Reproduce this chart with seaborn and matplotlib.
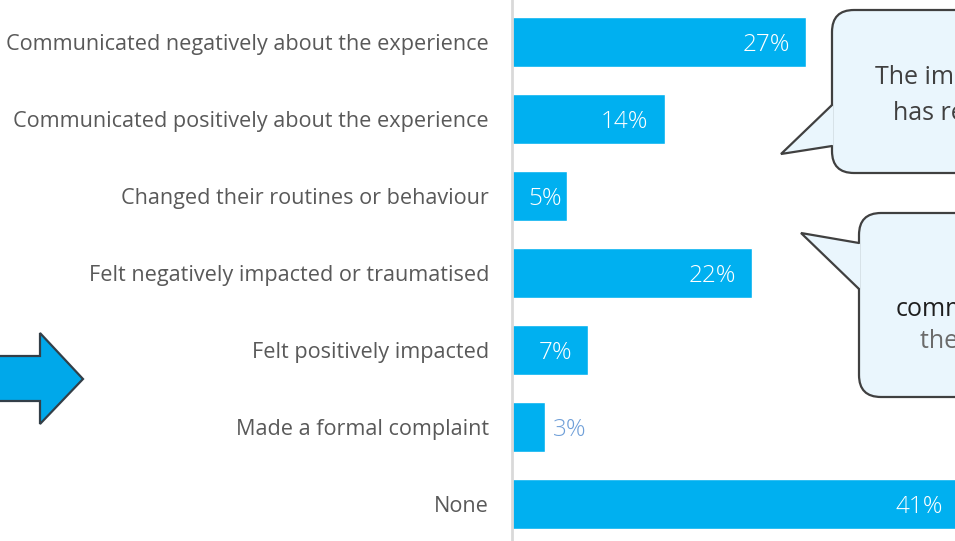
import matplotlib
matplotlib.use("Agg")
import matplotlib.pyplot as plt
import seaborn as sns
import pandas as pd
from matplotlib.patches import FancyBboxPatch, Polygon

categories = [
    "Communicated negatively about the experience",
    "Communicated positively about the experience",
    "Changed their routines or behaviour",
    "Felt negatively impacted or traumatised",
    "Felt positively impacted",
    "Made a formal complaint",
    "None",
]
values = [27, 14, 5, 22, 7, 3, 41]
value_labels = ["27%", "14%", "5%", "22%", "7%", "3%", "41%"]

sns.set_theme(style="white")
plt.rcParams["font.family"] = ["Open Sans", "DejaVu Sans"]

W, H = 955, 541
fig = plt.figure(figsize=(W / 100, H / 100), dpi=100)
fig.patch.set_facecolor("white")

ax = fig.add_axes([512 / W, 0, (W - 512) / W, 1])
df = pd.DataFrame({"cat": categories, "val": values})
sns.barplot(data=df, y="cat", x="val", orient="h", color="#00b0f0",
            saturation=1, width=0.65, ax=ax)
px_per_pct = 10.9
ax.set_xlim(0, (W - 512) / px_per_pct)
ax.set_ylim(6 + 37 / 77, -42 / 77)
for s in ["top", "right", "bottom"]:
    ax.spines[s].set_visible(False)
ax.spines["left"].set_color("#d9d9d9")
ax.spines["left"].set_linewidth(2)
ax.spines["left"].set_zorder(5)
ax.set_xticks([])
ax.set_xlabel("")
ax.set_ylabel("")
ax.tick_params(axis="y", length=0, pad=16.5)
for lab in ax.get_yticklabels():
    lab.set_fontsize(15.6)
    lab.set_color("#595959")

for i, (v, t) in enumerate(zip(values, value_labels)):
    if v >= 5:
        x = max(v - 16 / px_per_pct, 50 / px_per_pct)
        ax.text(x, i, t, ha="right", va="center_baseline",
                color="white", fontsize=17.5, fontweight="light")
    else:
        ax.text(v + 8 / px_per_pct, i, t, ha="left", va="center_baseline",
                color="#6f9fd8", fontsize=17.5, fontweight="light")

# Overlay axes in pixel coordinates for callouts and arrow
ov = fig.add_axes([0, 0, 1, 1], facecolor="none")
ov.set_xlim(0, W)
ov.set_ylim(H, 0)
ov.axis("off")

fill = "#eaf6fd"
edge = "#404040"

# Callout 1
b1 = FancyBboxPatch((832, 10), 250, 163, boxstyle="round,pad=0,rounding_size=22",
                    fc=fill, ec=edge, lw=1.6, zorder=2)
ov.add_patch(b1)
ov.add_patch(Polygon([(833, 105), (781, 154), (833, 146)], closed=True,
                     fc=fill, ec="none", zorder=3))
ov.plot([832, 781, 832], [105, 154, 146], color=edge, lw=1.6, zorder=4,
        solid_joinstyle="miter")
ov.text(875, 74, "The impact of the experience", fontsize=18, color="#404040",
        va="center_baseline", ha="left", zorder=5)
ov.text(893, 111, "has resulted in action", fontsize=18, color="#404040",
        va="center_baseline", ha="left", zorder=5)

# Callout 2
b2 = FancyBboxPatch((859, 213), 250, 184, boxstyle="round,pad=0,rounding_size=22",
                    fc=fill, ec=edge, lw=1.6, zorder=2)
ov.add_patch(b2)
ov.add_patch(Polygon([(860, 243), (801, 233), (860, 289)], closed=True,
                     fc=fill, ec="none", zorder=3))
ov.plot([859, 801, 859], [243, 233, 289], color=edge, lw=1.6, zorder=4,
        solid_joinstyle="miter")
ov.text(896, 307, "communicated", fontsize=18, color="#1f1f1f",
        va="center_baseline", ha="left", zorder=5)
ov.text(920, 339, "their experience", fontsize=18, color="#6b6b6b",
        va="center_baseline", ha="left", zorder=5)

# Arrow
arrow = Polygon([(-5, 356), (40, 356), (40, 333), (83, 379), (40, 424),
                 (40, 401), (-5, 401)], closed=True, fc="#00a8ea", ec="#333f48",
                lw=1.6, zorder=2)
ov.add_patch(arrow)

fig.savefig("out.png", dpi=100, facecolor="white")
